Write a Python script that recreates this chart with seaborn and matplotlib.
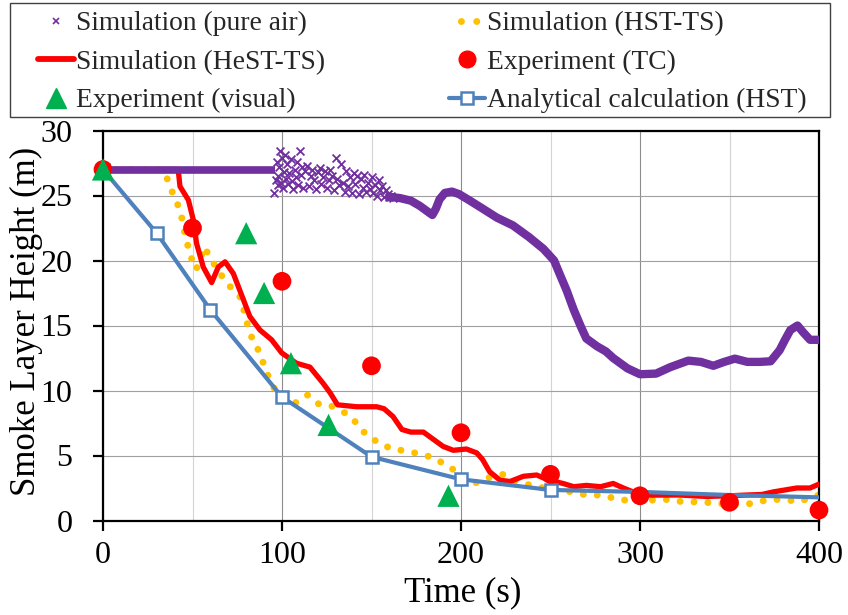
import matplotlib
matplotlib.use("Agg")
import matplotlib.pyplot as plt
from matplotlib.lines import Line2D
from matplotlib.patches import Rectangle
import seaborn as sns

# ---------------- data ----------------
# Simulation (pure air): flat part, noisy part, smooth part
t_pa_flat = [0, 96]
v_pa_flat = [27, 27]

t_pa_noise = [95.5, 96.5, 97, 97.5, 98, 98.5, 99, 99.5, 100, 100.5, 101, 101.5, 102,
              103, 103.5, 104, 105, 105.5, 106, 107, 108, 108.5, 109, 110, 110.5, 111, 112,
              113, 114, 115, 116, 117, 118, 119, 120, 121, 122, 123, 124, 125, 126, 127, 128, 129, 130,
              131, 132, 133, 134, 135, 136, 137, 138, 139, 140, 141, 142, 143, 144, 145, 146,
              147, 148, 149, 150, 151, 152, 153, 154, 155, 156, 157, 158, 159, 160, 161, 162]
v_pa_noise = [25.2, 26.2, 27.6, 26.5, 25.8, 27.2, 28.4, 26.0, 27.9, 25.6, 26.8, 28.1, 26.3,
              27.4, 25.9, 26.7, 27.8, 26.1, 25.5, 27.0, 26.4, 27.6, 25.8, 28.4, 26.6, 27.2, 25.6,
              26.9, 27.3, 25.7, 26.5, 27.0, 26.2, 25.5, 26.8, 27.1, 25.9, 26.4, 26.9, 25.6, 26.2, 27.0, 26.5, 25.4, 27.9,
              26.3, 25.8, 27.4, 26.0, 25.3, 26.9, 25.7, 26.4, 25.2, 26.7, 25.9, 26.5, 25.1, 26.3, 25.6, 26.6,
              25.3, 26.0, 25.5, 26.4, 25.2, 25.8, 25.0, 26.2, 25.4, 25.7, 24.9, 25.4, 25.1, 24.9, 25.0, 24.8]

t_pa_smooth = [160, 166, 172, 177, 181, 184, 186, 188, 191, 195,
               199, 205, 212, 220, 229, 238, 246, 252, 255, 259,
               263, 267, 270, 276, 281, 285, 293, 300, 309, 317,
               327, 334, 341, 347, 353, 360, 367, 373, 378, 381,
               384, 388, 391, 395, 400]
v_pa_smooth = [24.9, 24.8, 24.6, 24.2, 23.8, 23.5, 24.0, 24.7, 25.2, 25.3,
               25.1, 24.6, 24.0, 23.3, 22.7, 21.8, 20.9, 20.0, 19.0, 17.7,
               16.2, 14.9, 14.0, 13.4, 13.0, 12.5, 11.7, 11.25, 11.3, 11.8,
               12.3, 12.2, 11.9, 12.2, 12.45, 12.2, 12.2, 12.25, 13.1, 13.9,
               14.65, 15.0, 14.5, 13.9, 13.9]

# Simulation (HST-TS)
t_hst = [0, 33, 35.6, 37, 40.2, 43.4, 44.9, 46.8, 49, 52,
         54.5, 56.6, 60.3, 64.5, 68.5, 72.8, 76.5, 79.3, 81.2, 84,
         87.7, 90.5, 93.3, 97, 101, 107.6, 111, 114.3, 117.5, 120.7,
         127.7, 135.6, 141.7, 147, 153.8, 161.3, 169.3, 177.5, 185.5, 192,
         200, 207.4, 215.6, 223.6, 230.7, 238.5, 246, 253.5, 261.8, 270,
         277.6, 286, 294.4, 300, 308.4, 316.8, 325, 333.5, 341.9, 350,
         358.3, 366, 374, 382, 389, 397.8, 400]
v_hst = [27, 27, 26.4, 25.8, 24.8, 23.75, 22.6, 21.45, 20.3, 19.3,
         20.2, 21.05, 20.1, 19.2, 18.4, 17.7, 17.2, 15.9, 14.8, 13.75,
         12.9, 11.7, 10.8, 9.8, 9.3, 9.06, 9.4, 9.65, 9.3, 8.94,
         8.8, 8.25, 7.5, 6.6, 6.0, 5.5, 5.35, 5.1, 4.8, 4.2,
         3.6, 2.86, 3.3, 3.55, 3.0, 2.73, 2.5, 2.35, 2.2, 1.96,
         1.96, 1.7, 1.5, 1.5, 1.58, 1.62, 1.4, 1.45, 1.32, 1.25,
         1.2, 1.45, 1.63, 1.58, 1.45, 1.88, 1.95]

# Simulation (HeST-TS)
t_hest = [0, 42, 43, 47.7, 50.5, 52.3, 56, 60.7, 64.4, 68.2,
          72.8, 78.4, 82, 87.7, 94.2, 99.8, 108, 115.6, 123, 127,
          131, 141.7, 152.9, 157, 162, 167, 172, 179, 185, 190,
          195.7, 203, 208.8, 212, 216, 221.8, 227.4, 234.8, 242.3, 249,
          257, 263, 270, 278, 285, 290.7, 298, 306, 322, 337,
          350, 359.6, 368, 374.5, 381, 387.5, 395, 400]
v_hest = [27, 27, 25.7, 24.65, 23.1, 21.3, 19.5, 18.3, 19.5, 19.9,
          19.0, 17.0, 15.7, 14.65, 13.9, 12.9, 12.1, 11.8, 10.55, 9.8,
          8.9, 8.75, 8.75, 8.6, 8.0, 7.0, 6.8, 6.8, 6.2, 5.7,
          5.4, 5.5, 5.2, 4.7, 3.75, 3.1, 3.0, 3.4, 3.5, 3.1,
          2.85, 2.6, 2.7, 2.6, 2.85, 2.5, 2.1, 1.95, 1.96, 1.85,
          1.9, 1.96, 2.0, 2.2, 2.35, 2.5, 2.5, 2.8]

# Experiment (TC)
t_tc = [0, 50, 100, 150, 200, 250, 300, 350, 400]
v_tc = [27, 22.5, 18.4, 11.9, 6.75, 3.55, 1.9, 1.4, 0.8]

# Experiment (visual)
t_vis = [0, 80, 90, 105, 126, 193]
v_vis = [27, 22.1, 17.5, 12.1, 7.35, 1.9]

# Analytical calculation (HST)
t_an = [0, 30, 60, 100, 150, 200, 250, 300, 350, 400]
v_an = [27, 22.1, 16.2, 9.5, 4.9, 3.17, 2.35, 2.2, 1.96, 1.78]
n_an_markers = 7

labels = ["Simulation (pure air)", "Simulation (HeST-TS)", "Experiment (visual)",
          "Simulation (HST-TS)", "Experiment (TC)", "Analytical calculation (HST)"]

# ---------------- styling ----------------
PURPLE = "#7030A0"
RED = "#FF0000"
YELLOW = "#FFC000"
GREEN = "#00B050"
BLUE = "#4F81BD"

sns.set_style("ticks")
plt.rcParams["font.family"] = ["Liberation Serif", "DejaVu Serif"]

W, H = 848, 615
fig = plt.figure(figsize=(W / 100, H / 100), dpi=100)
ax = fig.add_axes([103 / W, 94.5 / H, 716 / W, 390 / H])

DOTS = (0, (0.01, 2.0))
sns.lineplot(x=t_hst, y=v_hst, ax=ax, color=YELLOW, linewidth=5,
             linestyle=DOTS, dash_capstyle="round", zorder=2)
sns.lineplot(x=t_hest, y=v_hest, ax=ax, color=RED, linewidth=3.8, zorder=3)
sns.lineplot(x=t_an, y=v_an, ax=ax, color=BLUE, linewidth=3, marker="s",
             markersize=9, markerfacecolor="white", markeredgecolor=BLUE,
             markeredgewidth=1.8, markevery=list(range(n_an_markers)), zorder=4)
sns.lineplot(x=t_pa_flat, y=v_pa_flat, ax=ax, color=PURPLE, linewidth=5.5,
             solid_capstyle="butt", zorder=5)
sns.lineplot(x=t_pa_smooth, y=v_pa_smooth, ax=ax, color=PURPLE, linewidth=6, zorder=5)
sns.scatterplot(x=t_pa_noise, y=v_pa_noise, ax=ax, color=PURPLE, marker="x",
                s=32, linewidth=1.3, zorder=5)
sns.scatterplot(x=t_tc, y=v_tc, ax=ax, color=RED, marker="o", s=182,
                edgecolor="none", linewidth=0, zorder=6, clip_on=False)
sns.scatterplot(x=t_vis, y=v_vis, ax=ax, color=GREEN, marker="^", s=256,
                edgecolor="none", linewidth=0, zorder=7, clip_on=False)

ax.set_xlim(0, 400)
ax.set_ylim(0, 30)
ax.set_xticks([0, 100, 200, 300, 400])
ax.set_xticks([50, 150, 250, 350], minor=True)
ax.set_yticks([0, 5, 10, 15, 20, 25, 30])
ax.set_axisbelow(True)
ax.grid(which="major", axis="x", color="#8C8C8C", linewidth=0.8)
ax.grid(which="minor", axis="x", color="#D4D4D4", linewidth=0.8)
ax.grid(which="major", axis="y", color="#A0A0A0", linewidth=0.8)

for s in ax.spines.values():
    s.set_visible(True)
    s.set_color("black")
    s.set_linewidth(1.6)

ax.tick_params(which="major", direction="out", length=7, width=1.6, color="black",
               labelsize=23, labelcolor="black")
ax.tick_params(which="minor", length=0)
ax.tick_params(axis="x", pad=8)
ax.tick_params(axis="y", pad=15)

ax.set_xlabel("Time (s)", fontsize=25, color="black")
ax.set_ylabel("Smoke Layer Height (m)", fontsize=25, color="black")
ax.xaxis.label.set_va("center")
ax.yaxis.label.set_va("center")
ax.xaxis.set_label_coords(0.503, -0.186)
ax.yaxis.set_label_coords(-0.1066, 0.51)

handles = [
    Line2D([], [], linestyle="none", marker="x", color=PURPLE, markersize=5, markeredgewidth=1.2),
    Line2D([], [], color=RED, linewidth=4.2),
    Line2D([], [], linestyle="none", marker="^", color=GREEN, markersize=15),
    Line2D([], [], color=YELLOW, linewidth=5, linestyle=(0.5, (0.01, 2.2)), dash_capstyle="round"),
    Line2D([], [], linestyle="none", marker="o", color=RED, markersize=12),
    Line2D([], [], color=BLUE, linewidth=3, marker="s", markersize=9,
           markerfacecolor="white", markeredgecolor=BLUE, markeredgewidth=1.8),
]
fig.legend(handles=handles, labels=labels, ncol=2, loc="upper left",
           bbox_to_anchor=(38 / W, 1 - 11 / H), bbox_transform=fig.transFigure,
           frameon=False, fontsize=19.8, borderpad=0, borderaxespad=0,
           handlelength=1.31, handletextpad=0.07, columnspacing=4.5,
           labelspacing=0.48)
fig.patches.append(Rectangle((10 / W, 1 - 117 / H), 820 / W, 114 / H,
                             transform=fig.transFigure, fill=False,
                             edgecolor="#404040", linewidth=1))

fig.savefig("out.png", dpi=100)
